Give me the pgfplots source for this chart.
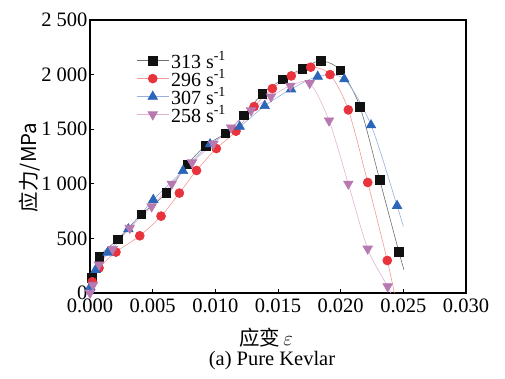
\documentclass[border=0pt]{standalone}
\usepackage{pgfplots}
\pgfplotsset{compat=1.18}
\usepackage{fontspec}
\setmainfont{Liberation Serif}
\newfontfamily\cjk{Noto Sans CJK SC}
\definecolor{cblack}{HTML}{111111}
\definecolor{lblack}{HTML}{707070}
\definecolor{cred}{HTML}{E8323C}
\definecolor{lred}{HTML}{F29A9A}
\definecolor{cblue}{HTML}{2B66B8}
\definecolor{lblue}{HTML}{98B0DC}
\definecolor{cpink}{HTML}{B878B0}
\definecolor{lpink}{HTML}{E2B2D6}
\begin{document}
\begin{tikzpicture}
\begin{axis}[
  scale only axis, width=376pt, height=273pt,
  xmin=0, xmax=0.030, ymin=0, ymax=2500,
  font=\fontsize{20.5}{23}\selectfont,
  axis line style={line width=1.1pt},
  xtick={0,0.005,0.010,0.015,0.020,0.025,0.030},
  xticklabels={0.000,0.005,0.010,0.015,0.020,0.025,0.030},
  ytick={0,500,1000,1500,2000,2500},
  yticklabels={0,500,1\ 000,1\ 500,2\ 000,2\ 500},
  xticklabel style={yshift=-2pt},
  yticklabel style={xshift=1pt},
  xtick pos=left, ytick pos=left, tick align=inside,
  major tick length=4pt, tick style={line width=0.9pt, black},
  scaled x ticks=false,
  xlabel={\cjk{应变}\,$\varepsilon$},
  xlabel style={at={(axis description cs:0.468,0)}, anchor=center, yshift=-45pt},
  ylabel={\cjk{应力}/MPa},
  ylabel style={at={(axis description cs:-0.16,0.46)}, anchor=center},
  clip=false,
  legend style={at={(0.115,0.9)}, anchor=north west, draw=none, fill=none,
    font=\fontsize{20}{22}\selectfont, row sep=-4.3pt},
  legend image code/.code={\draw[#1, mark indices={2}] plot coordinates {(0pt,0pt) (16pt,0pt) (32pt,0pt)};},
  legend cell align=left,
]
\addplot[lblack, line width=0.6pt, smooth, mark=square*, mark size=4.3pt,
  mark options={cblack, solid, fill=cblack},
  mark indices={2,3,4,5,6,7,8,9,10,11,12,13,14,15,16,17,18}] coordinates {
(0,0) (0.00016,137) (0.00074,332) (0.0022,490) (0.0041,719) (0.0061,915)
(0.00777,1177) (0.00923,1350) (0.0108,1464) (0.01226,1628) (0.01375,1823)
(0.01537,1958) (0.01694,2055) (0.0184,2125) (0.01997,2040) (0.02154,1704)
(0.02311,1037) (0.02465,375) (0.02505,213)};
\addlegendentry{313 s\textsuperscript{-1}}
\addplot[lred, line width=0.6pt, smooth, mark=*, mark size=4.5pt,
  mark options={cred, solid, fill=cred},
  mark indices={2,3,4,5,6,7,8,9,10,11,12,13,14,15,16,17,18}] coordinates {
(0,0) (0.00018,103) (0.00072,229) (0.00207,375) (0.00397,524) (0.00567,704)
(0.00713,915) (0.0085,1122) (0.01008,1323) (0.01165,1482) (0.01309,1707)
(0.01455,1872) (0.01606,1988) (0.01761,2068) (0.01915,2000) (0.02061,1677)
(0.02216,1012) (0.02372,298) (0.02428,0)};
\addlegendentry{296 s\textsuperscript{-1}}
\addplot[lblue, line width=0.6pt, smooth, mark=triangle*, mark size=5.5pt,
  mark options={cblue, solid, fill=cblue},
  mark indices={2,3,4,5,6,7,8,9,10,11,12,13,14,15}] coordinates {
(0,0) (0.00002,55) (0.00045,213) (0.00141,371) (0.00306,585) (0.00505,854)
(0.00742,1119) (0.00958,1363) (0.01194,1524) (0.01394,1714) (0.01604,1866)
(0.01817,1982) (0.02029,1958) (0.02242,1537) (0.0245,799) (0.025,609)};
\addlegendentry{307 s\textsuperscript{-1}}
\addplot[lpink, line width=0.6pt, smooth, mark=triangle*, mark size=5.5pt,
  mark options={cpink, solid, fill=cpink, rotate=180},
  mark indices={1,2,3,4,5,6,7,8,9,10,11,12,13,14,15,16,17,18}] coordinates {
(0,0) (0.00024,73) (0.00072,259) (0.00181,402) (0.00317,595) (0.00492,792)
(0.00652,1000) (0.00814,1195) (0.00984,1366) (0.01125,1515) (0.01285,1671)
(0.01444,1799) (0.01598,1897) (0.01753,1921) (0.01907,1579) (0.02061,1000)
(0.02216,405) (0.02375,60) (0.0240,0)};
\addlegendentry{258 s\textsuperscript{-1}}
\end{axis}
\node[font=\fontsize{20.5}{23}\selectfont] at ([xshift=-6pt,yshift=-68pt]current axis.south) {(a) Pure Kevlar};
\path (current axis.south west) ++(-90pt,-85pt) rectangle ++(505pt,378pt);
\end{tikzpicture}
\end{document}
